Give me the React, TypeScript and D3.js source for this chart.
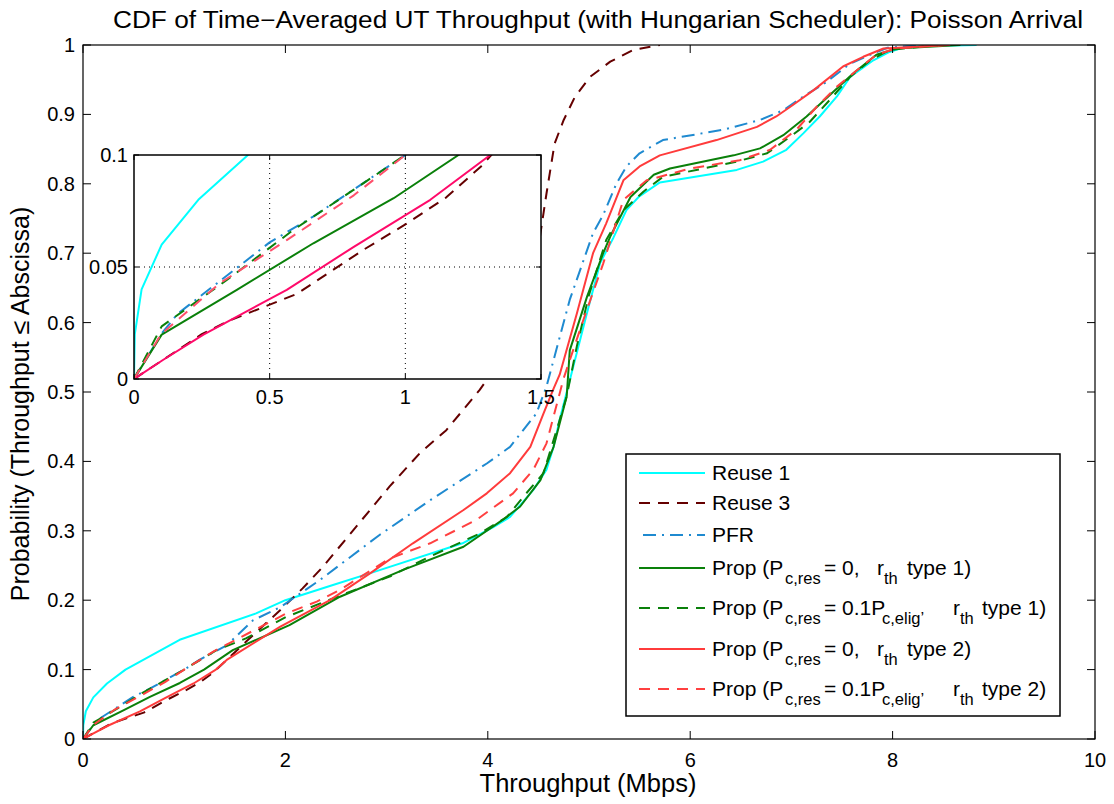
import React from "react";
import * as d3 from "d3";

// ---------- data (Throughput in Mbps, CDF probability) ----------
const reuse1X = [0, 0.003, 0.028, 0.102, 0.237, 0.42, 0.955, 1.71, 2.0, 2.47, 2.84, 3.75, 4.05, 4.22, 4.45, 4.58, 4.65, 4.71, 4.81, 4.98, 5.11, 5.24, 5.37, 5.49, 5.7, 6.46, 6.72, 6.95, 7.12, 7.28, 7.45, 7.58, 7.81, 7.97, 8.14, 8.83];
const reuse1Y = [0, 0.02, 0.04, 0.06, 0.08, 0.1, 0.143, 0.181, 0.2, 0.222, 0.239, 0.282, 0.305, 0.32, 0.359, 0.388, 0.421, 0.46, 0.517, 0.614, 0.686, 0.722, 0.762, 0.781, 0.802, 0.82, 0.832, 0.849, 0.873, 0.897, 0.926, 0.954, 0.978, 0.99, 0.998, 1.0];

const reuse3X = [0, 0.1, 0.25, 0.35, 0.6, 0.85, 1.0, 1.15, 1.28, 1.42, 1.61, 1.81, 1.98, 2.17, 2.37, 2.7, 3.03, 3.33, 3.59, 3.92, 4.15, 4.35, 4.47, 4.53, 4.58, 4.66, 4.75, 4.86, 5.01, 5.21, 5.44, 5.7];
const reuse3Y = [0, 0.008, 0.02, 0.026, 0.038, 0.058, 0.069, 0.081, 0.095, 0.114, 0.14, 0.167, 0.19, 0.217, 0.248, 0.306, 0.364, 0.412, 0.445, 0.503, 0.55, 0.61, 0.68, 0.738, 0.786, 0.858, 0.892, 0.925, 0.954, 0.976, 0.993, 1.0];

const pfrX = [0, 0.1, 0.16, 0.5, 0.66, 1.0, 1.15, 1.42, 1.68, 1.95, 2.34, 2.93, 3.43, 3.99, 4.22, 4.35, 4.48, 4.58, 4.81, 5.04, 5.14, 5.27, 5.37, 5.5, 5.73, 6.33, 6.69, 6.92, 7.12, 7.32, 7.58, 7.81, 7.95, 8.3];
const pfrY = [0, 0.02, 0.029, 0.061, 0.0725, 0.1, 0.114, 0.135, 0.171, 0.19, 0.229, 0.294, 0.344, 0.397, 0.421, 0.445, 0.469, 0.508, 0.633, 0.729, 0.755, 0.8, 0.825, 0.844, 0.863, 0.878, 0.892, 0.906, 0.926, 0.944, 0.973, 0.988, 0.996, 1.0];

const prop1X = [0, 0.102, 0.379, 0.661, 0.957, 1.196, 1.48, 2.04, 2.54, 3.17, 3.76, 4.15, 4.32, 4.52, 4.65, 4.78, 4.81, 4.98, 5.14, 5.21, 5.41, 5.64, 5.8, 6.43, 6.69, 6.92, 7.15, 7.38, 7.61, 7.84, 8.04, 8.67];
const prop1Y = [0, 0.0198, 0.0398, 0.0606, 0.0807, 0.1, 0.128, 0.164, 0.205, 0.244, 0.277, 0.316, 0.335, 0.373, 0.421, 0.494, 0.56, 0.637, 0.7, 0.724, 0.781, 0.813, 0.822, 0.841, 0.851, 0.87, 0.897, 0.928, 0.959, 0.986, 0.995, 1.0];

const prop2X = [0, 0.102, 0.342, 0.588, 0.809, 0.987, 1.32, 1.61, 2.01, 2.6, 3.03, 3.43, 3.92, 4.19, 4.38, 4.55, 4.68, 4.78, 4.88, 5.0, 5.17, 5.34, 5.54, 5.73, 6.46, 6.76, 6.99, 7.18, 7.38, 7.58, 7.78, 7.97, 8.3, 8.6];
const prop2Y = [0, 0.0235, 0.0442, 0.0666, 0.0844, 0.099, 0.128, 0.145, 0.176, 0.21, 0.234, 0.263, 0.296, 0.32, 0.354, 0.383, 0.445, 0.494, 0.566, 0.64, 0.719, 0.762, 0.789, 0.81, 0.832, 0.844, 0.868, 0.889, 0.921, 0.954, 0.978, 0.993, 0.998, 1.0];

const prop3X = [0, 0.108, 0.256, 0.563, 0.81, 1.092, 1.313, 1.42, 1.95, 2.44, 2.84, 3.26, 3.76, 3.99, 4.22, 4.42, 4.55, 4.65, 4.71, 4.88, 5.04, 5.17, 5.34, 5.5, 5.7, 6.26, 6.66, 6.85, 6.99, 7.22, 7.51, 7.71, 7.91, 8.57];
const prop3Y = [0, 0.0086, 0.0198, 0.0398, 0.059, 0.08, 0.1, 0.114, 0.162, 0.2, 0.239, 0.282, 0.33, 0.354, 0.383, 0.421, 0.469, 0.505, 0.525, 0.613, 0.7, 0.743, 0.805, 0.825, 0.841, 0.863, 0.882, 0.897, 0.911, 0.935, 0.969, 0.983, 0.995, 1.0];

const prop4X = [0, 0.1, 0.317, 0.563, 0.81, 1.0, 1.3, 2.01, 2.31, 2.54, 3.03, 3.43, 3.89, 4.25, 4.45, 4.58, 4.71, 4.75, 4.94, 5.14, 5.34, 5.57, 6.0, 6.49, 6.79, 7.05, 7.25, 7.45, 7.65, 7.84, 8.04, 8.5];
const prop4Y = [0, 0.02, 0.0428, 0.062, 0.082, 0.1, 0.127, 0.181, 0.198, 0.215, 0.26, 0.282, 0.316, 0.354, 0.388, 0.426, 0.498, 0.52, 0.602, 0.685, 0.777, 0.805, 0.822, 0.834, 0.849, 0.878, 0.911, 0.94, 0.964, 0.986, 0.995, 1.0];

const xTicks = [0, 2, 4, 6, 8, 10];
const yTicks = [0, 0.1, 0.2, 0.3, 0.4, 0.5, 0.6, 0.7, 0.8, 0.9, 1];
const insetXTicks = [0, 0.5, 1, 1.5];
const insetYTicks = [0, 0.05, 0.1];

type Series = { xs: number[]; ys: number[]; color: string; insetColor: string; dash: string };

const series: Series[] = [
  { xs: reuse1X, ys: reuse1Y, color: "#00ffff", insetColor: "#00ffff", dash: "" },
  { xs: reuse3X, ys: reuse3Y, color: "#650000", insetColor: "#650000", dash: "11,8" },
  { xs: pfrX, ys: pfrY, color: "#1f8ad0", insetColor: "#1f8ad0", dash: "13,6,2,6" },
  { xs: prop1X, ys: prop1Y, color: "#0a800a", insetColor: "#0a800a", dash: "" },
  { xs: prop2X, ys: prop2Y, color: "#0a800a", insetColor: "#0a800a", dash: "11,8" },
  { xs: prop3X, ys: prop3Y, color: "#ff3b3b", insetColor: "#ff0a6a", dash: "" },
  { xs: prop4X, ys: prop4Y, color: "#ff4040", insetColor: "#ff4f6b", dash: "11,8" },
];

const FONT = "'Liberation Sans', Arial, Helvetica, sans-serif";

export default function App() {
  const W = 1114, H = 804;
  const x = d3.scaleLinear().domain([0, 10]).range([83, 1095]);
  const y = d3.scaleLinear().domain([0, 1]).range([739, 45]);
  const ix = d3.scaleLinear().domain([0, 1.5]).range([134, 541]);
  const iy = d3.scaleLinear().domain([0, 0.1]).range([379, 155]);

  const mkLine = (sx: d3.ScaleLinear<number, number>, sy: d3.ScaleLinear<number, number>) =>
    d3.line<[number, number]>().x((d) => sx(d[0])).y((d) => sy(d[1]));
  const mainLine = mkLine(x, y);
  const insetLine = mkLine(ix, iy);
  const pts = (s: Series) => s.xs.map((v, i) => [v, s.ys[i]] as [number, number]);

  const [x0, x1] = x.range();
  const [y0, y1] = y.range();
  const [ix0, ix1] = ix.range();
  const [iy0, iy1] = iy.range();

  const legendRows = [
    { y: 473, kind: "plain", text: "Reuse 1" },
    { y: 503, kind: "plain", text: "Reuse 3" },
    { y: 535, kind: "plain", text: "PFR" },
    { y: 568, kind: "a", t: "1" },
    { y: 608, kind: "b", t: "1" },
    { y: 649, kind: "a", t: "2" },
    { y: 689, kind: "b", t: "2" },
  ];
  const subSize = 16.5;
  const LF = 21;
  const SD = 9;

  return (
    <svg width={W} height={H} style={{ position: "absolute", left: 0, top: 0, background: "#fff" }} fontFamily={FONT}>
      <defs>
        <clipPath id="mainClip"><rect x={x0} y={y1} width={x1 - x0} height={y0 - y1} /></clipPath>
        <clipPath id="insetClip"><rect x={ix0} y={iy1} width={ix1 - ix0} height={iy0 - iy1} /></clipPath>
      </defs>
      <rect x={0} y={0} width={W} height={H} fill="#fff" />
      {/* title */}
      <text x={598} y={28} textAnchor="middle" fontSize={23} textLength={970} lengthAdjust="spacingAndGlyphs">
        CDF of Time−Averaged UT Throughput (with Hungarian Scheduler): Poisson Arrival
      </text>
      {/* main curves */}
      <g clipPath="url(#mainClip)">
        {series.map((s, i) => (
          <path key={i} d={mainLine(pts(s)) || ""} fill="none" stroke={s.color} strokeWidth={2} strokeDasharray={s.dash || undefined} strokeLinejoin="round" />
        ))}
      </g>
      {/* main axes box + ticks */}
      <rect x={x0} y={y1} width={x1 - x0} height={y0 - y1} fill="none" stroke="#000" strokeWidth={1.2} />
      {xTicks.map((t) => (
        <g key={"xt" + t}>
          <line x1={x(t)} x2={x(t)} y1={y0} y2={y0 - 8} stroke="#000" />
          <line x1={x(t)} x2={x(t)} y1={y1} y2={y1 + 8} stroke="#000" />
          <text x={x(t)} y={767} textAnchor="middle" fontSize={20}>{t}</text>
        </g>
      ))}
      {yTicks.map((t) => (
        <g key={"yt" + t}>
          <line x1={x0} x2={x0 + 8} y1={y(t)} y2={y(t)} stroke="#000" />
          <line x1={x1} x2={x1 - 8} y1={y(t)} y2={y(t)} stroke="#000" />
          <text x={75} y={y(t) + 7} textAnchor="end" fontSize={20}>{t}</text>
        </g>
      ))}
      <text x={588} y={792} textAnchor="middle" fontSize={25.5}>Throughput (Mbps)</text>
      <text transform={`translate(29,404) rotate(-90)`} textAnchor="middle" fontSize={25}>
        Probability (Throughput ≤ Abscissa)
      </text>

      {/* inset */}
      <rect x={ix0} y={iy1} width={ix1 - ix0} height={iy0 - iy1} fill="#fff" />
      {insetXTicks.slice(1, -1).map((t) => (
        <line key={"ig" + t} x1={ix(t)} x2={ix(t)} y1={iy0} y2={iy1} stroke="#000" strokeWidth={1} strokeDasharray="1,4" />
      ))}
      {insetYTicks.slice(1, -1).map((t) => (
        <line key={"igy" + t} x1={ix0} x2={ix1} y1={iy(t)} y2={iy(t)} stroke="#000" strokeWidth={1} strokeDasharray="1,4" />
      ))}
      <g clipPath="url(#insetClip)">
        {series.map((s, i) => (
          <path key={i} d={insetLine(pts(s)) || ""} fill="none" stroke={s.insetColor} strokeWidth={2} strokeDasharray={s.dash || undefined} strokeLinejoin="round" />
        ))}
      </g>
      <rect x={ix0} y={iy1} width={ix1 - ix0} height={iy0 - iy1} fill="none" stroke="#000" strokeWidth={1.5} />
      {insetXTicks.map((t) => (
        <g key={"ixt" + t}>
          <line x1={ix(t)} x2={ix(t)} y1={iy0} y2={iy0 - 5} stroke="#000" />
          <line x1={ix(t)} x2={ix(t)} y1={iy1} y2={iy1 + 5} stroke="#000" />
          <text x={ix(t)} y={404} textAnchor="middle" fontSize={20}>{t}</text>
        </g>
      ))}
      {insetYTicks.map((t) => (
        <g key={"iyt" + t}>
          <line x1={ix0} x2={ix0 + 5} y1={iy(t)} y2={iy(t)} stroke="#000" />
          <line x1={ix1} x2={ix1 - 5} y1={iy(t)} y2={iy(t)} stroke="#000" />
          <text x={128} y={iy(t) + 7} textAnchor="end" fontSize={20}>{t}</text>
        </g>
      ))}

      {/* legend */}
      <rect x={626} y={454} width={434} height={262} fill="#fff" stroke="#000" strokeWidth={1.5} />
      {legendRows.map((r, i) => {
        const s = series[i];
        const by = r.y + 7;
        return (
          <g key={"lg" + i}>
            <line x1={639} x2={705} y1={r.y} y2={r.y} stroke={s.color} strokeWidth={2} strokeDasharray={s.dash || undefined} strokeDashoffset={s.dash && s.dash.split(",").length > 2 ? -4 : 0} />
            {r.kind === "plain" ? (
              <text x={712} y={by} fontSize={LF}>{r.text}</text>
            ) : r.kind === "a" ? (
              <text x={712} y={by} fontSize={LF}>
                Prop (P<tspan fontSize={subSize} x={785} y={by + SD}>c,res</tspan>
                <tspan x={824} y={by}>= 0,</tspan>
                <tspan x={877} y={by}>r</tspan>
                <tspan fontSize={subSize} x={884} y={by + SD}>th</tspan>
                <tspan x={907} y={by}>{`type ${r.t})`}</tspan>
              </text>
            ) : (
              <text x={712} y={by} fontSize={LF}>
                Prop (P<tspan fontSize={subSize} x={785} y={by + SD}>c,res</tspan>
                <tspan x={824} y={by}>= 0.1P</tspan>
                <tspan fontSize={subSize} x={882} y={by + SD}>c,elig’</tspan>
                <tspan x={953} y={by}>r</tspan>
                <tspan fontSize={subSize} x={960} y={by + SD}>th</tspan>
                <tspan x={982} y={by}>{`type ${r.t})`}</tspan>
              </text>
            )}
          </g>
        );
      })}
    </svg>
  );
}
